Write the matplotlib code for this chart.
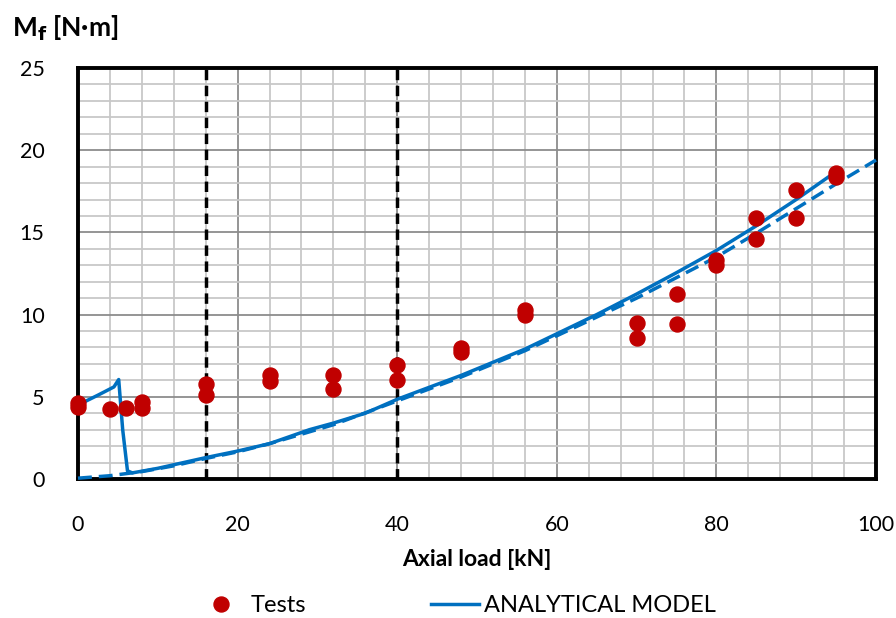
import matplotlib
matplotlib.use("Agg")
import matplotlib.pyplot as plt
from matplotlib.ticker import MultipleLocator

plt.rcParams['font.family'] = ['Lato', 'DejaVu Sans']

# Experimental results (axial load in kN, bending moment in N·m)
test_load = [0, 0, 4, 6, 8, 8, 16, 16, 24, 24, 32, 32, 40, 40, 48, 48,
             56, 56, 70, 70, 75, 75, 80, 80, 85, 85, 90, 90, 95, 95]
test_moment = [4.4, 4.6, 4.25, 4.3, 4.7, 4.3, 5.75, 5.1, 6.35, 5.95, 6.35, 5.45,
               6.95, 6.0, 7.95, 7.7, 10.25, 9.95, 9.5, 8.55, 11.25, 9.45,
               13.3, 13.0, 15.85, 14.6, 17.55, 15.85, 18.6, 18.35]

# Analytical model (solid)
model_load = [0, 2.5, 4.5, 5.1, 5.6, 6.2, 6.8, 10, 16, 20, 24, 29, 32, 36,
              40, 48, 56, 65, 70, 75, 80, 85, 90, 95]
model_moment = [4.5, 5.1, 5.6, 6.05, 3.0, 0.5, 0.37, 0.65, 1.3, 1.7, 2.15, 3.0,
                3.4, 4.0, 4.85, 6.3, 7.9, 10.0, 11.25, 12.55, 13.9, 15.4, 17.0, 18.7]

# Analytical model (dashed)
model2_load = [0, 4, 8, 12, 16, 20, 24, 32, 40, 48, 56, 65, 70, 75, 80,
               85, 90, 95, 100]
model2_moment = [0.05, 0.2, 0.45, 0.8, 1.25, 1.65, 2.15, 3.3, 4.75, 6.2, 7.8,
                 9.85, 11.0, 12.25, 13.5, 14.95, 16.45, 17.95, 19.4]

# Reference load levels
ref_loads = [16, 40]

fig = plt.figure(figsize=(8.96, 6.18), dpi=100)
ax = fig.add_axes([78 / 896, 1 - 479 / 618, (876 - 78) / 896, (479 - 68) / 618])

ax.set_xlim(0, 100)
ax.set_ylim(0, 25)
ax.xaxis.set_major_locator(MultipleLocator(20))
ax.xaxis.set_minor_locator(MultipleLocator(4))
ax.yaxis.set_major_locator(MultipleLocator(5))
ax.yaxis.set_minor_locator(MultipleLocator(1))

ax.grid(which='minor', color='#c8c8c8', linewidth=1.3, zorder=0)
ax.grid(which='major', color='#8c8c8c', linewidth=1.3, zorder=0)
ax.set_axisbelow(True)

for sp in ax.spines.values():
    sp.set_linewidth(2.8)
    sp.set_color('black')

ax.tick_params(which='both', length=0)
ax.tick_params(axis='x', pad=26, labelsize=15.5)
ax.tick_params(axis='y', pad=24, labelsize=15.5)

for xr in ref_loads:
    ax.axvline(xr, color='black', linestyle=(0, (3, 1.6)), linewidth=2.5, zorder=2)

ax.plot(model2_load, model2_moment, color='#0070c0', linewidth=2.5,
        linestyle=(0, (4, 2)), zorder=3, clip_on=False)
ax.plot(model_load, model_moment, color='#0070c0', linewidth=2.5,
        zorder=3, label='ANALYTICAL MODEL')
ax.plot(test_load, test_moment, 'o', color='#c00000', markersize=10.8,
        linestyle='none', zorder=4, clip_on=False, label='Tests')

ax.set_xlabel('Axial load [kN]', fontsize=16.5, fontweight='bold', labelpad=10)
fig.text(12 / 896, 1 - 28 / 618, r'M$_\mathbf{f}$ [N·m]', fontsize=19,
         fontweight='bold', ha='left', va='center')

handles, labels = ax.get_legend_handles_labels()
order = [1, 0]
leg = fig.legend([handles[i] for i in order], [labels[i] for i in order],
                 loc='center', bbox_to_anchor=(0.51, 1 - 606 / 618), ncol=2,
                 frameon=False, fontsize=17, columnspacing=5.3,
                 handlelength=2.0, handletextpad=0.25)

fig.savefig('out.png', dpi=100)
